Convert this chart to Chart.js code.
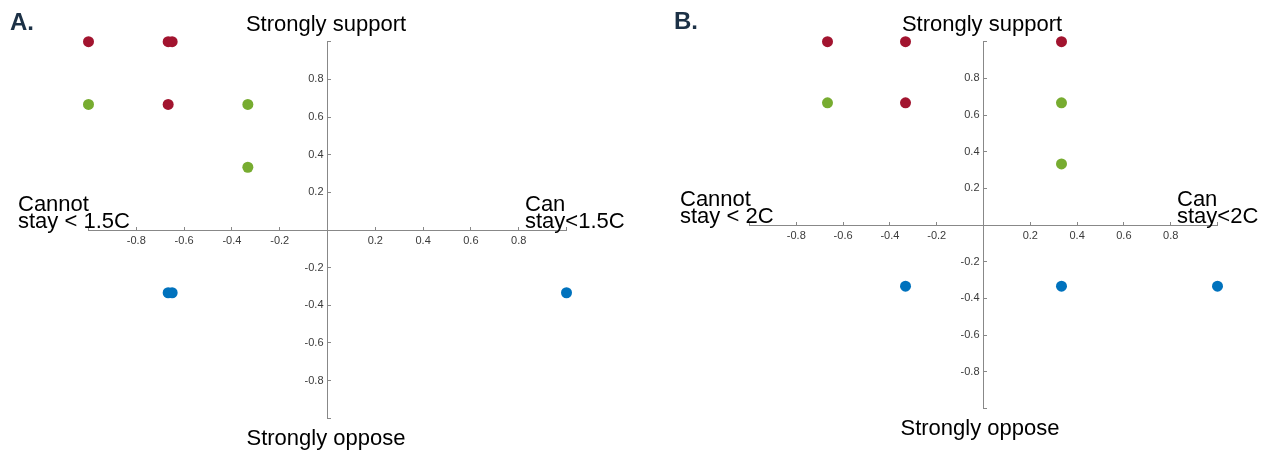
<!DOCTYPE html>
<html>
<head>
<meta charset="utf-8">
<script src="https://cdn.jsdelivr.net/npm/chart.js@4/dist/chart.umd.min.js"></script>
<style>
  body { margin: 0; background: #fff; width: 1265px; height: 450px; position: relative; overflow: hidden; font-family: 'Liberation Sans', Arial, sans-serif; }
  canvas { position: absolute; top: 0; }
  .lbl { position: absolute; font-size: 22px; line-height: 22px; color: #000; white-space: nowrap; }
  .two { line-height: 17px; }
  .ctr { width: 300px; text-align: center; }
  .panel { position: absolute; font-size: 24px; line-height: 24px; font-weight: bold; color: #1c3146; }
</style>
</head>
<body>
<canvas id="chartA" width="640" height="450" style="left:0"></canvas>
<canvas id="chartB" width="625" height="450" style="left:640px"></canvas>

<div class="panel" style="left:10px; top:10px">A.</div>
<div class="lbl ctr" style="left:176px; top:13px">Strongly support</div>
<div class="lbl ctr" style="left:176px; top:427px">Strongly oppose</div>
<div class="lbl two" style="left:18px; top:195px">Cannot<br>stay &lt; 1.5C</div>
<div class="lbl two" style="left:525px; top:195px">Can<br>stay&lt;1.5C</div>

<div class="panel" style="left:674px; top:9px">B.</div>
<div class="lbl ctr" style="left:832px; top:13px">Strongly support</div>
<div class="lbl ctr" style="left:830px; top:417px">Strongly oppose</div>
<div class="lbl two" style="left:680px; top:190px">Cannot<br>stay &lt; 2C</div>
<div class="lbl two" style="left:1177px; top:190px">Can<br>stay&lt;2C</div>

<script>
// Panel A (1.5C)
const aRedX = [-1, -0.6667, -0.65, -0.6667];
const aRedY = [1, 1, 1, 0.6667];
const aGreenX = [-1, -0.3333, -0.3333];
const aGreenY = [0.6667, 0.6667, 0.3333];
const aBlueX = [-0.6667, -0.65, 1];
const aBlueY = [-0.3333, -0.3333, -0.3333];

// Panel B (2C)
const bRedX = [-0.6667, -0.3333, 0.3333, -0.3333];
const bRedY = [1, 1, 1, 0.6667];
const bGreenX = [-0.6667, 0.3333, 0.3333];
const bGreenY = [0.6667, 0.6667, 0.3333];
const bBlueX = [-0.3333, 0.3333, 1];
const bBlueY = [-0.3333, -0.3333, -0.3333];

const RED = '#A2142F';
const GREEN = '#77AC30';
const BLUE = '#0072BD';
const AXIS = '#888888';

const toPoints = (xs, ys) => xs.map((x, i) => ({ x: x, y: ys[i] }));

const tickLabel = (value) => {
  const v = Math.round(value * 10) / 10;
  if (v === 0 || Math.abs(v) === 1) return '';
  return v.toFixed(1);
};

function axis(dir) {
  return {
    type: 'linear',
    position: 'center',
    min: -1,
    max: 1,
    afterFit: (scale) => {
      if (dir === 'x') scale.height = 0; else scale.width = 0;
    },
    border: { display: true, color: AXIS, width: 1 },
    grid: { drawOnChartArea: false, drawTicks: true, tickLength: -4, color: AXIS, lineWidth: 1 },
    ticks: {
      stepSize: 0.2,
      autoSkip: false,
      maxRotation: 0,
      padding: 8,
      color: '#3a3a3a',
      font: { family: "'Liberation Sans', Arial, sans-serif", size: 11 },
      callback: tickLabel
    }
  };
}

function renderPanel(canvasId, red, green, blue, padding) {
  const ctx = document.getElementById(canvasId).getContext('2d');
  const ds = (pts, color) => ({
    data: pts,
    backgroundColor: color,
    borderWidth: 0,
    pointRadius: 5.5,
    pointBorderWidth: 0,
    clip: false
  });
  return new Chart(ctx, {
    type: 'scatter',
    data: {
      datasets: [ds(red, RED), ds(green, GREEN), ds(blue, BLUE)]
    },
    options: {
      responsive: false,
      animation: false,
      devicePixelRatio: 1,
      layout: { padding: padding },
      plugins: { legend: { display: false }, tooltip: { enabled: false } },
      scales: { x: axis('x'), y: axis('y') }
    }
  });
}

renderPanel('chartA', toPoints(aRedX, aRedY), toPoints(aGreenX, aGreenY), toPoints(aBlueX, aBlueY),
  { left: 88.5, right: 73.5, top: 41.7, bottom: 31.7 });
renderPanel('chartB', toPoints(bRedX, bRedY), toPoints(bGreenX, bGreenY), toPoints(bBlueX, bBlueY),
  { left: 109.5, right: 47.5, top: 41.7, bottom: 41.5 });
</script>
</body>
</html>
